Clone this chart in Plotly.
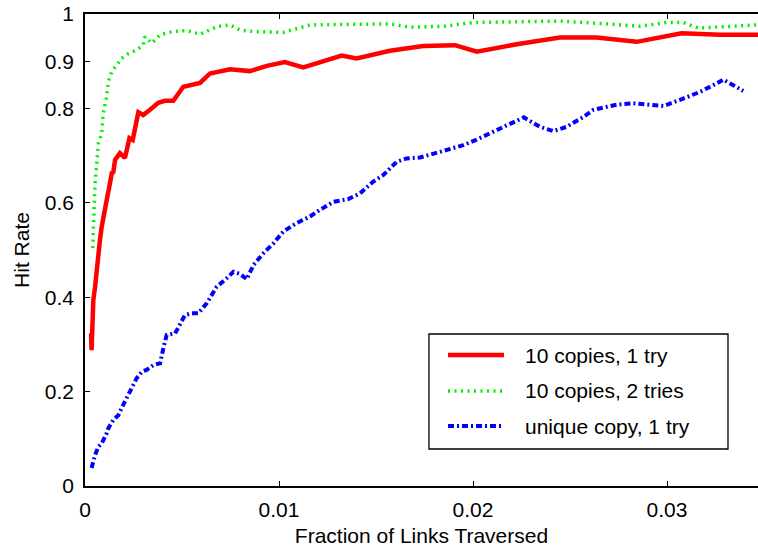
import plotly.graph_objects as go

# ---- data ----
red_x = [0.00031, 0.00034, 0.00040, 0.00043, 0.00052, 0.00057, 0.00060, 0.00069, 0.00077,
         0.00086, 0.00094, 0.00103, 0.00112, 0.00129, 0.00138, 0.00146, 0.00155, 0.00180,
         0.00206, 0.00229, 0.00246, 0.00275, 0.00300, 0.00335, 0.00378, 0.00412, 0.00455,
         0.00507, 0.00593, 0.00644, 0.00747, 0.00850, 0.00937, 0.01030, 0.01125, 0.01323,
         0.01400, 0.01572, 0.01744, 0.01907, 0.02020, 0.02225, 0.02448, 0.02637, 0.02844,
         0.03075, 0.03273, 0.03469]
red_y = [0.323, 0.288, 0.359, 0.394, 0.422, 0.443, 0.465, 0.500, 0.521,
         0.549, 0.571, 0.592, 0.606, 0.642, 0.663, 0.665, 0.691, 0.705,
         0.695, 0.737, 0.733, 0.792, 0.786, 0.797, 0.812, 0.816, 0.816,
         0.846, 0.854, 0.874, 0.883, 0.879, 0.890, 0.898, 0.887, 0.912,
         0.906, 0.922, 0.932, 0.934, 0.920, 0.936, 0.950, 0.950, 0.941,
         0.959, 0.956, 0.956]

green_x = [0.00040, 0.00043, 0.00048, 0.00052, 0.00060, 0.00069, 0.00086, 0.00094, 0.00112,
           0.00120, 0.00138, 0.00163, 0.00189, 0.00223, 0.00266, 0.00300, 0.00309, 0.00344,
           0.00387, 0.00455, 0.00524, 0.00593, 0.00679, 0.00747, 0.00799, 0.00866, 0.01022,
           0.01160, 0.01280, 0.01572, 0.01675, 0.01847, 0.02002, 0.02225, 0.02448, 0.02655,
           0.02861, 0.02998, 0.03084, 0.03161, 0.03469]
green_y = [0.504, 0.564, 0.600, 0.641, 0.691, 0.726, 0.747, 0.790, 0.825,
           0.857, 0.878, 0.892, 0.906, 0.916, 0.924, 0.934, 0.952, 0.938,
           0.956, 0.963, 0.965, 0.957, 0.973, 0.977, 0.966, 0.963, 0.961,
           0.977, 0.978, 0.979, 0.972, 0.974, 0.982, 0.983, 0.985, 0.980,
           0.974, 0.982, 0.982, 0.970, 0.977]

blue_x = [0.00034, 0.00043, 0.00052, 0.00069, 0.00086, 0.00112, 0.00120, 0.00146, 0.00172,
          0.00197, 0.00232, 0.00266, 0.00292, 0.00318, 0.00352, 0.00387, 0.00404, 0.00421,
          0.00464, 0.00490, 0.00515, 0.00550, 0.00584, 0.00627, 0.00679, 0.00730, 0.00765,
          0.00800, 0.00834, 0.00868, 0.00919, 0.00971, 0.01022, 0.01091, 0.01160, 0.01211,
          0.01280, 0.01357, 0.01418, 0.01486, 0.01538, 0.01607, 0.01658, 0.01727, 0.01813,
          0.01881, 0.01950, 0.02019, 0.02088, 0.02156, 0.02225, 0.02262, 0.02345, 0.02414,
          0.02483, 0.02569, 0.02620, 0.02741, 0.02826, 0.02981, 0.03067, 0.03170, 0.03256,
          0.03290, 0.03342, 0.03393]
blue_y = [0.038, 0.055, 0.066, 0.083, 0.090, 0.112, 0.122, 0.140, 0.150,
          0.172, 0.200, 0.228, 0.242, 0.246, 0.256, 0.260, 0.292, 0.320,
          0.323, 0.345, 0.362, 0.366, 0.366, 0.387, 0.422, 0.440, 0.454,
          0.449, 0.438, 0.468, 0.493, 0.514, 0.539, 0.557, 0.571, 0.585,
          0.602, 0.608, 0.620, 0.645, 0.659, 0.687, 0.694, 0.696, 0.706,
          0.712, 0.722, 0.734, 0.747, 0.759, 0.774, 0.781, 0.761, 0.752,
          0.761, 0.782, 0.797, 0.808, 0.811, 0.805, 0.818, 0.835, 0.853,
          0.861, 0.849, 0.837]

series_names = ["10 copies, 1 try", "10 copies, 2 tries", "unique copy, 1 try"]

x_ticks = [0, 0.01, 0.02, 0.03]
x_ticktext = ["0", "0.01", "0.02", "0.03"]
y_ticks = [0, 0.2, 0.4, 0.6, 0.8, 0.9, 1]
y_ticktext = ["0", "0.2", "0.4", "0.6", "0.8", "0.9", "1"]

# ---- styles ----
FONT = "Liberation Sans, Arial, Helvetica, sans-serif"
styles = [
    dict(color="#ff0000", width=4.5, dash="solid"),
    dict(color="#00ee00", width=3.5, dash="2px,4.5px"),
    dict(color="#0000ff", width=4, dash="6px,3px,2px,3px"),
]

fig = go.Figure()
for (xs, ys), name, st in zip([(red_x, red_y), (green_x, green_y), (blue_x, blue_y)],
                              series_names, styles):
    fig.add_trace(go.Scatter(x=xs, y=ys, mode="lines", name=name, line=st,
                             showlegend=False))

# ---- custom legend box (paper coordinates) ----
L_x0, L_x1, L_y0, L_y1 = 0.5111, 0.9554, 0.0784, 0.322
row_y = [0.2775, 0.2013, 0.1271]
samp_x0, samp_x1, text_x = 0.5394, 0.6226, 0.6508
fig.add_shape(type="rect", xref="paper", yref="paper", x0=L_x0, x1=L_x1, y0=L_y0, y1=L_y1,
              line=dict(color="black", width=1.3), fillcolor="white", layer="above")
for name, st, yy in zip(series_names, styles, row_y):
    fig.add_shape(type="line", xref="paper", yref="paper", x0=samp_x0, x1=samp_x1,
                  y0=yy, y1=yy, line=st, layer="above")
    fig.add_annotation(xref="paper", yref="paper", x=text_x, y=yy, text=name,
                       showarrow=False, xanchor="left", yanchor="middle",
                       font=dict(family=FONT, size=21, color="black"))

axis_common = dict(
    showgrid=False, zeroline=False, showline=True, linecolor="black", linewidth=1.5,
    ticks="inside", ticklen=5, tickwidth=1.2, tickcolor="black",
    tickfont=dict(family=FONT, size=21, color="black"),
)

fig.update_layout(
    width=758, height=548,
    margin=dict(l=85, r=0, t=14, b=62),
    paper_bgcolor="white", plot_bgcolor="white",
    font=dict(family=FONT, size=21, color="black"),
    xaxis=dict(range=[0, 0.03469], tickvals=x_ticks, ticktext=x_ticktext,
               mirror="ticks", ticklabelstandoff=4,
               title=dict(text="Fraction of Links Traversed", standoff=8,
                          font=dict(family=FONT, size=21)),
               **axis_common),
    yaxis=dict(range=[0, 1], tickvals=y_ticks, ticktext=y_ticktext,
               mirror=False, ticklabelstandoff=5,
               title=dict(text="Hit Rate", standoff=9, font=dict(family=FONT, size=21)),
               **axis_common),
)

fig.write_html("out.html")
